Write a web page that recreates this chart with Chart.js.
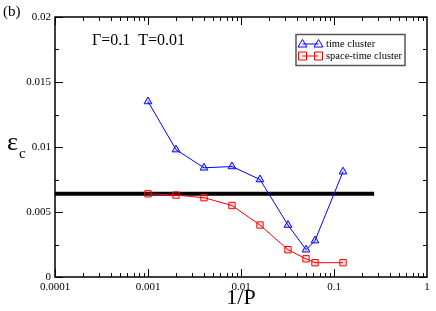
<!DOCTYPE html>
<html>
<head>
<meta charset="utf-8">
<script src="https://cdn.jsdelivr.net/npm/chart.js@4/dist/chart.umd.min.js"></script>
<style>
  html, body { margin: 0; padding: 0; background: #fff; }
</style>
</head>
<body>
<canvas id="grafico" width="436" height="311"></canvas>
<script>
// dados
const invP = [0.001, 0.002, 0.004, 0.008, 0.016, 0.032, 0.05, 0.0625, 0.125];
const timeCluster = [0.0135, 0.0098, 0.0084, 0.0085, 0.0075, 0.0040, 0.0021, 0.0028, 0.0081];
const spaceTimeCluster = [0.0064, 0.0063, 0.0061, 0.0055, 0.0040, 0.0021, 0.0014, 0.0011, 0.0011];
const limiteX = [0.0001, 0.27];
const limiteY = [0.0064, 0.0064];
const xTicks = [0.0001, 0.001, 0.01, 0.1, 1];
const yTicks = [0, 0.005, 0.01, 0.015, 0.02];

const serif = "'Liberation Serif', 'DejaVu Serif', serif";
const azul = '#0000ff';
const vermelho = '#ff0000';

const pontos = (xs, ys) => xs.map((x, i) => ({ x: x, y: ys[i] }));

function marcador(ctx, tipo, x, y, cor) {
  ctx.strokeStyle = cor;
  ctx.lineWidth = 1;
  ctx.beginPath();
  if (tipo === 'triangle') {
    ctx.moveTo(x, y - 4.5);
    ctx.lineTo(x + 4.5, y + 3);
    ctx.lineTo(x - 4.5, y + 3);
    ctx.closePath();
  } else {
    ctx.rect(x - 4, y - 4, 8, 8);
  }
  ctx.stroke();
}

const molduraPlugin = {
  id: 'moldura',
  afterDraw(chart) {
    const ctx = chart.ctx;
    const { left, right, top, bottom } = chart.chartArea;
    const sx = chart.scales.x, sy = chart.scales.y;
    ctx.save();

    // caixa
    ctx.strokeStyle = '#000';
    ctx.lineWidth = 1.5;
    ctx.strokeRect(left, top, right - left, bottom - top);

    // ticks para dentro
    ctx.lineWidth = 1;
    ctx.beginPath();
    for (let d = -4; d < 0; d++) {
      for (let m = 1; m <= 9; m++) {
        const px = Math.round(sx.getPixelForValue(m * Math.pow(10, d))) + 0.5;
        const len = m === 1 ? 8 : 4;
        ctx.moveTo(px, bottom); ctx.lineTo(px, bottom - len);
        ctx.moveTo(px, top); ctx.lineTo(px, top + len);
      }
    }
    for (let i = 0; i <= 8; i++) {
      const py = Math.round(sy.getPixelForValue(i * 0.0025)) + 0.5;
      const len = i % 2 === 0 ? 8 : 4;
      ctx.moveTo(left, py); ctx.lineTo(left + len, py);
      ctx.moveTo(right, py); ctx.lineTo(right - len, py);
    }
    ctx.stroke();

    // textos
    ctx.fillStyle = '#000';
    ctx.textBaseline = 'alphabetic';
    ctx.textAlign = 'left';
    ctx.font = '15px ' + serif;
    ctx.fillText('(b)', 3, 16);
    ctx.font = '16px ' + serif;
    ctx.fillText('\u0393=0.1  T=0.01', 92, 45);

    ctx.font = '26px ' + serif;
    ctx.fillText('\u03b5', 7, 150);
    ctx.font = '15px ' + serif;
    ctx.fillText('c', 19, 158);

    // legenda
    ctx.strokeStyle = '#555';
    ctx.lineWidth = 1.5;
    ctx.strokeRect(296, 34.5, 109, 31);
    const itens = [
      { nome: 'time cluster', cor: azul, tipo: 'triangle', y: 44 },
      { nome: 'space-time cluster', cor: vermelho, tipo: 'rect', y: 56 }
    ];
    itens.forEach(it => {
      ctx.strokeStyle = it.cor;
      ctx.lineWidth = 1;
      ctx.beginPath();
      ctx.moveTo(302.5, it.y); ctx.lineTo(318.5, it.y);
      ctx.stroke();
      marcador(ctx, it.tipo, 302.5, it.y, it.cor);
      marcador(ctx, it.tipo, 318.5, it.y, it.cor);
      ctx.fillStyle = '#000';
      ctx.font = '10.5px ' + serif;
      ctx.textBaseline = 'middle';
      ctx.fillText(it.nome, 326, it.y + 0.5);
    });
    ctx.restore();
  }
};

new Chart(document.getElementById('grafico'), {
  type: 'scatter',
  data: {
    datasets: [
      {
        label: 'time cluster',
        data: pontos(invP, timeCluster),
        showLine: true,
        borderColor: azul,
        borderWidth: 1,
        pointStyle: 'triangle',
        pointRadius: 4.5,
        pointBorderWidth: 1,
        pointBorderColor: azul,
        pointBackgroundColor: 'rgba(0,0,255,0.15)',
        order: 1
      },
      {
        label: 'space-time cluster',
        data: pontos(invP, spaceTimeCluster),
        showLine: true,
        borderColor: vermelho,
        borderWidth: 1,
        pointStyle: 'rect',
        pointRadius: 4.5,
        pointBorderWidth: 1,
        pointBorderColor: vermelho,
        pointBackgroundColor: 'rgba(255,0,0,0.12)',
        order: 2
      },
      {
        label: 'limite',
        data: pontos(limiteX, limiteY),
        showLine: true,
        borderColor: '#000',
        borderWidth: 4,
        pointRadius: 0,
        order: 3
      }
    ]
  },
  options: {
    responsive: false,
    animation: false,
    devicePixelRatio: 1,
    layout: { padding: { top: 17, right: 9, left: 0, bottom: 0 } },
    plugins: { legend: { display: false }, tooltip: { enabled: false } },
    scales: {
      x: {
        type: 'logarithmic',
        min: 0.0001,
        max: 1,
        afterBuildTicks: s => { s.ticks = xTicks.map(v => ({ value: v })); },
        afterFit: s => { s.height = 34; },
        grid: { display: false, drawTicks: false },
        border: { display: false },
        ticks: {
          autoSkip: false,
          maxRotation: 0,
          padding: 4,
          color: '#000',
          font: { family: serif, size: 11 },
          callback: v => String(v)
        },
        title: {
          display: true,
          text: '1/P',
          color: '#000',
          font: { family: serif, size: 22 },
          padding: { top: 0, bottom: 0 }
        }
      },
      y: {
        min: 0,
        max: 0.02,
        afterBuildTicks: s => { s.ticks = yTicks.map(v => ({ value: v })); },
        afterFit: s => { s.width = 55; },
        grid: { display: false, drawTicks: false },
        border: { display: false },
        ticks: {
          padding: 4,
          color: '#000',
          font: { family: serif, size: 11 },
          callback: v => String(v)
        }
      }
    }
  },
  plugins: [molduraPlugin]
});
</script>
</body>
</html>
